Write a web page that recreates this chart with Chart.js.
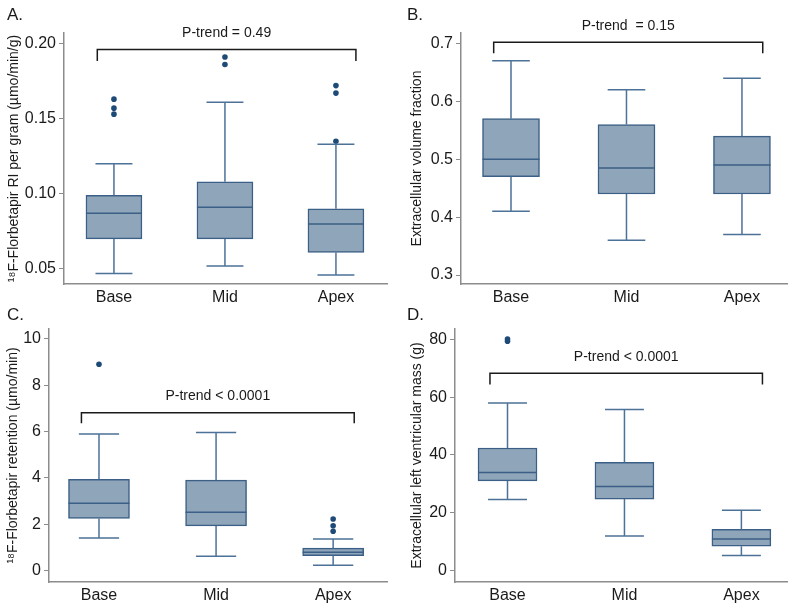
<!DOCTYPE html>
<html>
<head>
<meta charset="utf-8">
<script src="https://cdn.jsdelivr.net/npm/chart.js@4.4.0/dist/chart.umd.min.js"></script>
<style>
  body { margin: 0; background: #fff; }
  #wrap { position: relative; width: 800px; height: 605px; overflow: hidden; }
  canvas { position: absolute; }
</style>
</head>
<body>
<div id="wrap">
  <canvas id="chartA" width="400" height="305" style="left:0;top:0"></canvas>
  <canvas id="chartB" width="400" height="305" style="left:400px;top:0"></canvas>
  <canvas id="chartC" width="400" height="305" style="left:0;top:300px"></canvas>
  <canvas id="chartD" width="400" height="305" style="left:400px;top:300px"></canvas>
</div>
<script>
(function () {
  'use strict'

  const groups = ['Base', 'Mid', 'Apex']

  // A. RI per gram
  const aMin = [0.047, 0.052, 0.046]
  const aQ1 = [0.070, 0.070, 0.061]
  const aMed = [0.087, 0.091, 0.080]
  const aQ3 = [0.099, 0.108, 0.090]
  const aMax = [0.120, 0.161, 0.133]
  const aOutX = [0, 0, 0, 1, 1, 2, 2, 2]
  const aOutY = [0.163, 0.157, 0.153, 0.191, 0.186, 0.172, 0.167, 0.135]
  const aTicks = [0.05, 0.10, 0.15, 0.20]

  // B. extracellular volume fraction
  const bMin = [0.41, 0.36, 0.37]
  const bQ1 = [0.47, 0.44, 0.44]
  const bMed = [0.50, 0.485, 0.49]
  const bQ3 = [0.57, 0.56, 0.54]
  const bMax = [0.67, 0.62, 0.64]
  const bOutX = []
  const bOutY = []
  const bTicks = [0.3, 0.4, 0.5, 0.6, 0.7]

  // C. retention
  const cMin = [1.41, 0.62, 0.23]
  const cQ1 = [2.25, 1.93, 0.65]
  const cMed = [2.91, 2.52, 0.79]
  const cQ3 = [3.94, 3.91, 0.97]
  const cMax = [5.90, 5.96, 1.37]
  const cOutX = [0, 2, 2, 2]
  const cOutY = [8.91, 2.23, 1.94, 1.70]
  const cTicks = [0, 2, 4, 6, 8, 10]

  // D. extracellular LV mass
  const dMin = [24.6, 11.9, 5.2]
  const dQ1 = [31.0, 24.7, 8.4]
  const dMed = [33.9, 29.1, 10.9]
  const dQ3 = [42.4, 37.4, 14.2]
  const dMax = [58.0, 55.7, 20.8]
  const dOutX = [0, 0]
  const dOutY = [79.4, 80.1]
  const dTicks = [0, 20, 40, 60, 80]

  // p-trend brackets: [left x, right x], top y, end y
  const bracketX = [-0.15, 2.18]
  const bracketTop = [0.196, 0.702, 6.82, 68.3]
  const bracketEnd = [0.1884, 0.683, 6.36, 64.4]
  const pTexts = ['P-trend = 0.49', 'P-trend  = 0.15', 'P-trend < 0.0001', 'P-trend < 0.0001']

  const FONT = '"Liberation Sans", Arial, Helvetica, sans-serif'
  const boxFill = '#8fa5b9'
  const boxLine = '#3b5f86'
  const whisker = '#4d7298'
  const dotColor = '#1d4a77'
  const axisColor = '#8c8c8c'
  const textColor = '#1a1a1a'

  function boxExtras (p) {
    return {
      id: 'boxExtras',
      afterDatasetsDraw (chart) {
        const ctx = chart.ctx
        const x = chart.scales.x
        const y = chart.scales.y
        const cap = p.barWidth * 0.66
        ctx.save()
        ctx.lineWidth = 1.5
        groups.forEach((g, i) => {
          const cx = x.getPixelForValue(i)
          const yMin = y.getPixelForValue(p.min[i])
          const yMax = y.getPixelForValue(p.max[i])
          ctx.strokeStyle = whisker
          ctx.beginPath()
          ctx.moveTo(cx, y.getPixelForValue(p.q3[i])); ctx.lineTo(cx, yMax)
          ctx.moveTo(cx, y.getPixelForValue(p.q1[i])); ctx.lineTo(cx, yMin)
          ctx.moveTo(cx - cap / 2, yMax); ctx.lineTo(cx + cap / 2, yMax)
          ctx.moveTo(cx - cap / 2, yMin); ctx.lineTo(cx + cap / 2, yMin)
          ctx.stroke()
          const ym = y.getPixelForValue(p.med[i])
          ctx.strokeStyle = boxLine
          ctx.beginPath()
          ctx.moveTo(cx - p.barWidth / 2, ym); ctx.lineTo(cx + p.barWidth / 2, ym)
          ctx.stroke()
        })

        // bracket + p-trend
        const xl = x.getPixelForValue(bracketX[0])
        const xr = x.getPixelForValue(bracketX[1])
        const yt = y.getPixelForValue(bracketTop[p.k])
        const ye = y.getPixelForValue(bracketEnd[p.k])
        ctx.strokeStyle = textColor
        ctx.beginPath()
        ctx.moveTo(xl, ye); ctx.lineTo(xl, yt); ctx.lineTo(xr, yt); ctx.lineTo(xr, ye)
        ctx.stroke()
        ctx.fillStyle = textColor
        ctx.font = '14px ' + FONT
        ctx.textAlign = 'center'
        ctx.textBaseline = 'middle'
        ctx.fillText(pTexts[p.k], (xl + xr) / 2, yt - 16)

        // panel tag
        ctx.font = '17px ' + FONT
        ctx.textAlign = 'left'
        ctx.fillText(p.tag, 7, 15)
        ctx.restore()
      }
    }
  }

  function makePanel (id, p) {
    const ctx = document.getElementById(id).getContext('2d')
    const decimals = p.decimals
    return new Chart(ctx, {
      type: 'bar',
      data: {
        datasets: [
          {
            type: 'bar',
            data: groups.map((g, i) => ({ x: i, y: [p.q1[i], p.q3[i]] })),
            backgroundColor: boxFill,
            borderColor: boxLine,
            borderWidth: 1.5,
            borderSkipped: false,
            barThickness: p.barWidth
          },
          {
            type: 'scatter',
            data: p.outX.map((v, i) => ({ x: v, y: p.outY[i] })),
            backgroundColor: dotColor,
            borderWidth: 0,
            pointRadius: 2.8
          }
        ]
      },
      options: {
        responsive: false,
        animation: false,
        events: [],
        layout: { padding: { top: p.top, right: 13, left: 0, bottom: 0 } },
        plugins: { legend: { display: false }, tooltip: { enabled: false } },
        scales: {
          x: {
            type: 'linear',
            offset: false,
            min: p.xMin,
            max: p.xMax,
            afterBuildTicks: s => { s.ticks = groups.map((g, i) => ({ value: i })) },
            afterFit: s => { s.height = p.xHeight },
            ticks: {
              callback: v => groups[v],
              font: { family: FONT, size: 16 },
              color: textColor,
              padding: 4,
              maxRotation: 0,
              autoSkip: false
            },
            grid: { display: false, drawTicks: false, offset: false },
            border: { color: axisColor, width: 1.5 }
          },
          y: {
            type: 'linear',
            min: p.yMin,
            max: p.yMax,
            afterBuildTicks: s => { s.ticks = p.ticks.map(v => ({ value: v })) },
            afterFit: s => { s.width = p.yWidth },
            ticks: {
              callback: v => v.toFixed(decimals),
              font: { family: FONT, size: 16 },
              color: textColor,
              padding: 3,
              autoSkip: false
            },
            grid: { drawOnChartArea: false, drawTicks: true, tickLength: 5, color: axisColor, lineWidth: 1 },
            border: { color: axisColor, width: 1.5 },
            title: {
              display: true,
              text: p.title,
              font: { family: FONT, size: 14 },
              color: textColor,
              padding: { top: p.titlePad, bottom: 0 }
            }
          }
        }
      },
      plugins: [boxExtras(p)]
    })
  }

  makePanel('chartA', {
    k: 0, tag: 'A.', min: aMin, q1: aQ1, med: aMed, q3: aQ3, max: aMax, outX: aOutX, outY: aOutY,
    ticks: aTicks, decimals: 2, yMin: 0.040, yMax: 0.207, xMin: -0.45, xMax: 2.46,
    top: 33, xHeight: 21, yWidth: 64, barWidth: 56, titlePad: 5.5,
    title: '¹⁸F-Florbetapir RI per gram (µmo/min/g)'
  })
  makePanel('chartB', {
    k: 1, tag: 'B.', min: bMin, q1: bQ1, med: bMed, q3: bQ3, max: bMax, outX: bOutX, outY: bOutY,
    ticks: bTicks, decimals: 1, yMin: 0.2845, yMax: 0.718, xMin: -0.433, xMax: 2.39,
    top: 33, xHeight: 21, yWidth: 61, barWidth: 57, titlePad: 9,
    title: 'Extracellular volume fraction'
  })
  makePanel('chartC', {
    k: 2, tag: 'C.', min: cMin, q1: cQ1, med: cMed, q3: cQ3, max: cMax, outX: cOutX, outY: cOutY,
    ticks: cTicks, decimals: 0, yMin: -0.49, yMax: 10.43, xMin: -0.427, xMax: 2.46,
    top: 29, xHeight: 23, yWidth: 49, barWidth: 61, titlePad: 5,
    title: '¹⁸F-Florbetapir retention (µmo/min)'
  })
  makePanel('chartD', {
    k: 3, tag: 'D.', min: dMin, q1: dQ1, med: dMed, q3: dQ3, max: dMax, outX: dOutX, outY: dOutY,
    ticks: dTicks, decimals: 0, yMin: -4.0, yMax: 83.6, xMin: -0.449, xMax: 2.39,
    top: 29, xHeight: 23, yWidth: 55, barWidth: 59, titlePad: 8.5,
    title: 'Extracellular left ventricular mass (g)'
  })
})()
</script>
</body>
</html>
